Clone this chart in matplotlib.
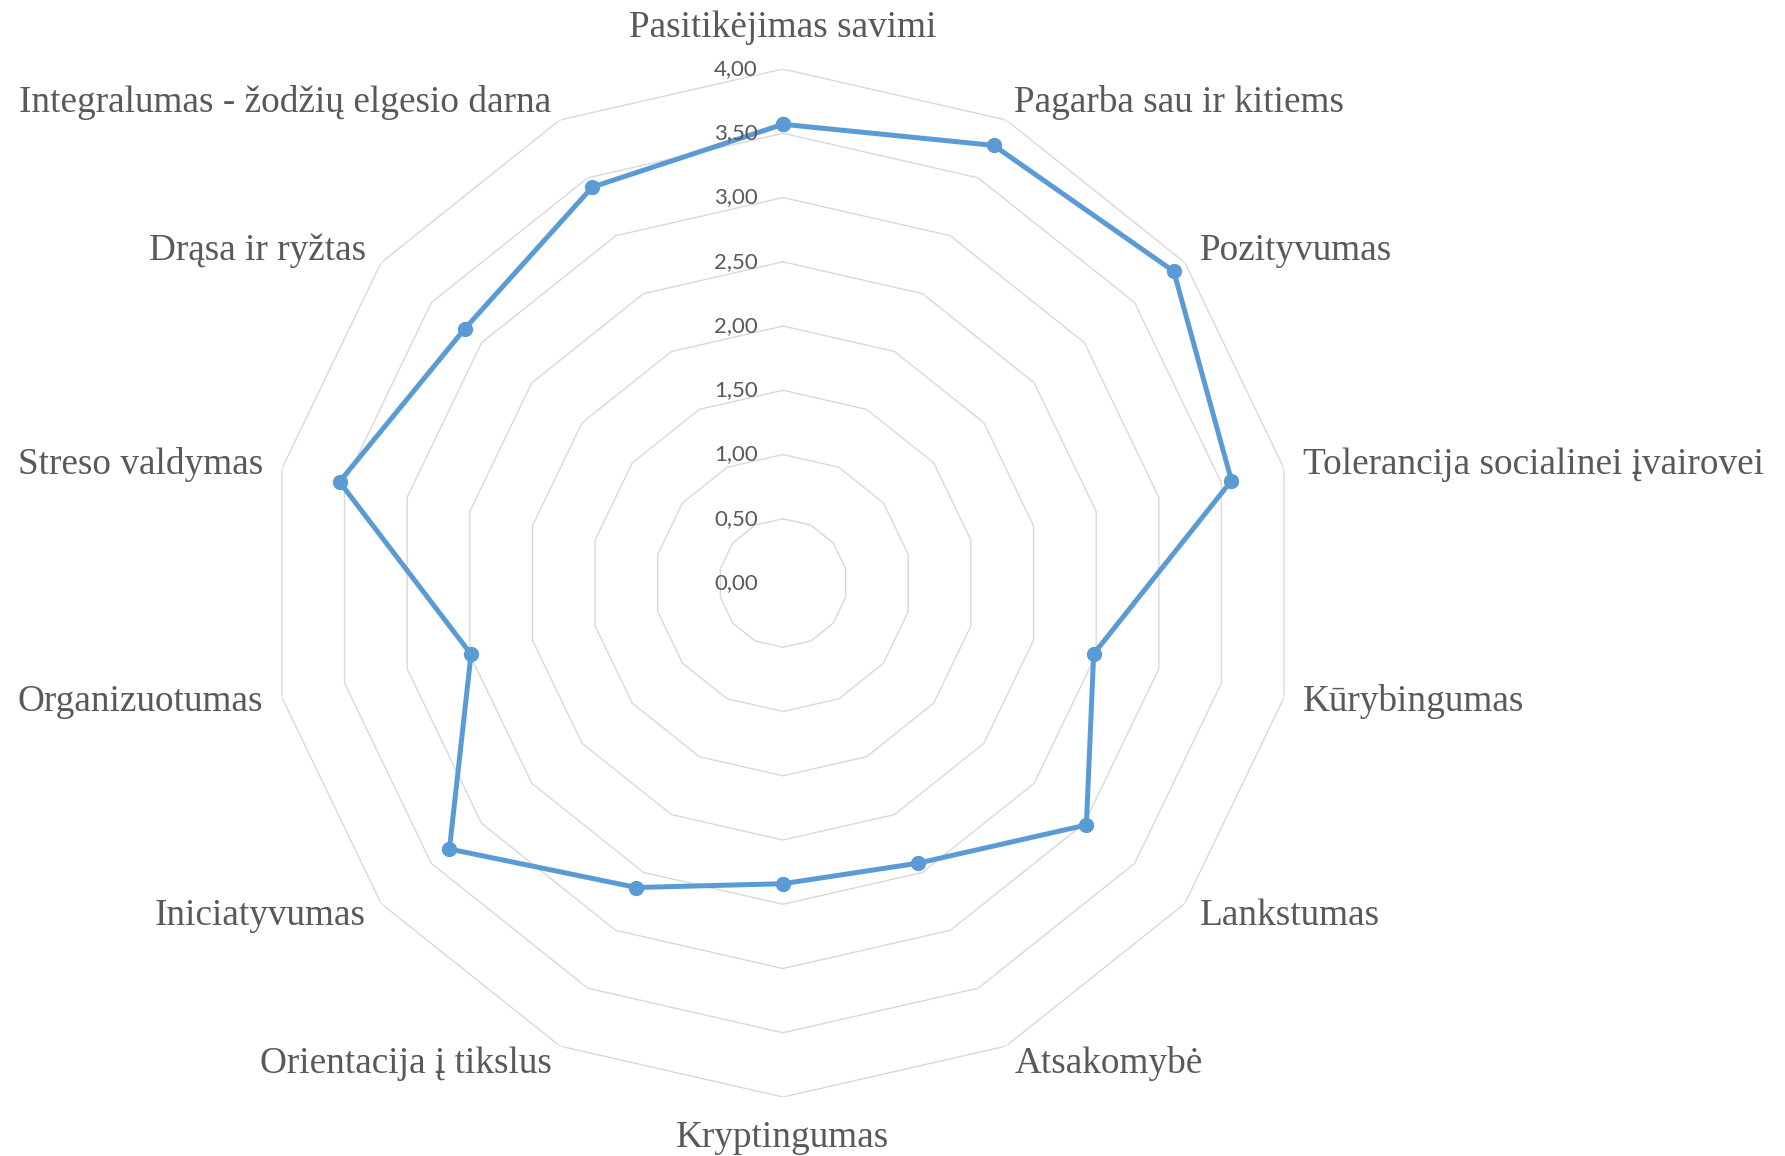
import numpy as np
import matplotlib
matplotlib.use('Agg')
import matplotlib.pyplot as plt

categories = ['Pasitikėjimas savimi', 'Pagarba sau ir kitiems', 'Pozityvumas',
              'Tolerancija socialinei įvairovei', 'Kūrybingumas', 'Lankstumas',
              'Atsakomybė', 'Kryptingumas', 'Orientacija į tikslus', 'Iniciatyvumas',
              'Organizuotumas', 'Streso valdymas', 'Drąsa ir ryžtas',
              'Integralumas - žodžių elgesio darna']
values = [3.57, 3.78, 3.89, 3.58, 2.48, 3.02, 2.42, 2.34, 2.63, 3.32, 2.49, 3.54, 3.17, 3.42]
levels = [0.5, 1.0, 1.5, 2.0, 2.5, 3.0, 3.5, 4.0]
tick_labels = ['0,00', '0,50', '1,00', '1,50', '2,00', '2,50', '3,00', '3,50', '4,00']

n = len(categories)
angles = np.arange(n) * 2 * np.pi / n
closed = np.append(angles, angles[0])

fig = plt.figure(figsize=(17.85, 11.56), dpi=100)
ax = fig.add_axes([0.1507, 0.0510, 0.5759, 0.8893], projection='polar')
ax.set_theta_offset(np.pi / 2)
ax.set_theta_direction(-1)
ax.set_ylim(0, 4)
ax.grid(False)
ax.set_xticks([])
ax.set_yticks([])
ax.spines['polar'].set_visible(False)
ax.patch.set_visible(False)

# polygon grid, no spokes
grid_c = '#d9d9d9'
for lv in levels:
    ax.plot(closed, [lv] * (n + 1), color=grid_c, lw=1.0, zorder=1)

ax.plot(closed, values + values[:1], color='#5b9bd5', lw=3.6, marker='o',
        markersize=10, zorder=3, clip_on=False)

# radial tick labels along the top spoke
for i, t in enumerate(tick_labels):
    ax.annotate(t, xy=(0, i * 0.5), xytext=(-25, 0), textcoords='offset pixels',
                ha='right', va='center', fontsize=16, color='#595959',
                family=['Lato', 'DejaVu Sans'], annotation_clip=False)

for a, lab in zip(angles, categories):
    s = np.sin(a)
    if abs(s) < 0.01:
        ax.text(a, 4.32, lab, ha='center', va='center', fontsize=26.8,
                color='#595959', family='Liberation Serif')
    else:
        ax.text(a, 4.15, lab, ha='left' if s > 0 else 'right', va='center',
                fontsize=26.8, color='#595959', family='Liberation Serif')

fig.savefig('out.png', dpi=100)
